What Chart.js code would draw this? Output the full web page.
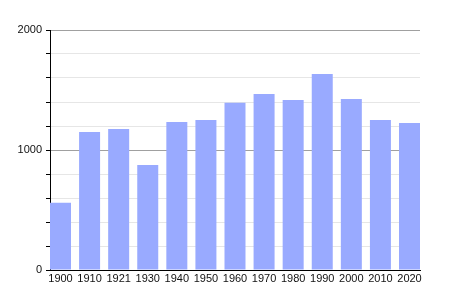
<!DOCTYPE html>
<html>
<head>
<meta charset="utf-8">
<script src="https://cdn.jsdelivr.net/npm/chart.js@4/dist/chart.umd.min.js"></script>
<style>
  body { margin: 0; background: #fff; }
  canvas { display: block; }
</style>
</head>
<body>
<canvas id="chart" width="450" height="300"></canvas>
<script>
// data
var years = ["1900", "1910", "1921", "1930", "1940", "1950", "1960", "1970", "1980", "1990", "2000", "2010", "2020"];
var population = [560, 1150, 1175, 875, 1233, 1250, 1394, 1467, 1417, 1633, 1425, 1250, 1225];
var yLabels = [0, 1000, 2000];

// bars sit at the left of each slot, so use a linear x scale and index positions
var points = [];
for (var i = 0; i < years.length; i++)
    points.push({x: i, y: population[i]});

var barFrac = 0.722;
var ctx = document.getElementById("chart").getContext("2d");
var chart = new Chart(ctx, {
    type: 'bar',
    data: {
        datasets: [{
            data: points,
            backgroundColor: "#99aaff",
            borderWidth: 0,
            barPercentage: barFrac,
            categoryPercentage: 1
        }]
    },
    options: {
        responsive: false,
        animation: false,
        layout: {padding: {left: 0, right: 30, top: 30, bottom: 0}},
        plugins: {legend: {display: false}, tooltip: {enabled: false}},
        scales: {
            x: {
                type: 'linear',
                offset: false,
                min: -barFrac / 2,
                max: years.length - 1 + barFrac / 2,
                afterBuildTicks: function(scale) {
                    scale.ticks = years.map(function(y, i) { return {value: i}; });
                },
                afterFit: function(scale) { scale.height = 30; },
                grid: {display: false, drawTicks: false, offset: false},
                border: {display: true, color: "#000", width: 1},
                ticks: {
                    autoSkip: false,
                    maxRotation: 0,
                    padding: 2,
                    color: "#111",
                    font: {family: "Liberation Sans", size: 11},
                    callback: function(v) { return years[v]; }
                }
            },
            y: {
                min: 0,
                max: 2000,
                afterFit: function(scale) { scale.width = 50; },
                ticks: {
                    stepSize: 200,
                    autoSkip: false,
                    padding: 4,
                    color: "#111",
                    font: {family: "Liberation Sans", size: 11},
                    callback: function(v) { return yLabels.indexOf(v) >= 0 ? v : ""; }
                },
                border: {display: true, color: "#000", width: 1},
                grid: {
                    drawTicks: true,
                    tickLength: 4,
                    tickColor: "#000",
                    color: function(c) {
                        var v = c.tick ? c.tick.value : 0;
                        if (v === 0) return "rgba(0,0,0,0)";
                        return (v % 1000 === 0) ? "#a0a0a0" : "#e6e6e6";
                    }
                }
            }
        }
    }
});
</script>
</body>
</html>
